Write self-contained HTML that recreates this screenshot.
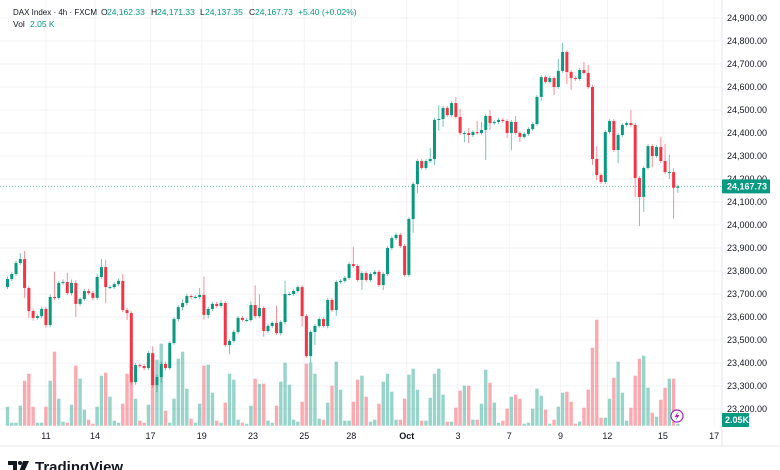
<!DOCTYPE html>
<html><head><meta charset="utf-8"><style>
html,body{margin:0;padding:0;background:#fff;}
#wrap{position:relative;width:780px;height:470px;overflow:hidden;font-family:"Liberation Sans",sans-serif;}
svg text{font-family:"Liberation Sans",sans-serif;}
</style></head><body>
<div id="wrap">
<svg id="chart" width="780" height="470" viewBox="0 0 780 470"></svg>
</div>
<script>
const closes=[23765,23787,23835,23852,23726,23626,23596,23604,23635,23565,23687,23683,23748,23752,23704,23748,23657,23678,23713,23704,23683,23774,23817,23730,23730,23743,23757,23630,23617,23317,23391,23387,23378,23443,23304,23339,23396,23378,23487,23591,23643,
23661,23691,23687,23687,23696,23609,23635,23657,23648,23661,23478,23496,23535,23596,23587,23587,23652,23604,23639,23539,23561,23574,23530,23578,23700,23700,23713,23730,23604,23430,23535,23561,23591,23561,23674,23630,23752,23757,23770,23830,
23822,23761,23791,23761,23787,23796,23739,23787,23900,23943,23957,23909,23783,24026,24178,24278,24248,24278,24287,24457,24461,24509,24478,24530,24470,24400,24400,24391,24404,24400,24413,24474,24443,24448,24457,24452,24400,
24448,24400,24383,24396,24417,24439,24557,24643,24622,24639,24600,24670,24752,24665,24639,24635,24674,24661,24600,24287,24217,24187,24404,24452,24326,24391,24435,24443,24435,24204,24122,24248,24343,24300,24339,24278,24230,24230,24162,24168];
const firstOpen=23730;
const wickUp=[10,8,10,26,35,8,10,8,10,8,12,110,8,12,40,15,12,8,10,10,10,15,35,30,8,8,10,30,10,8,10,8,8,10,30,10,10,10,8,8,8,
15,10,8,8,30,80,10,8,8,12,8,8,8,8,8,8,15,85,60,8,8,8,75,8,57,8,8,8,8,8,8,8,8,8,8,8,8,8,8,8,
75,8,8,8,8,8,8,8,8,8,10,8,8,8,8,8,8,8,48,8,60,8,8,8,26,35,8,22,8,48,35,8,26,8,8,8,8,
8,26,8,8,8,8,8,8,8,8,8,52,40,8,8,8,8,35,35,8,57,8,8,8,8,8,8,8,57,8,8,8,8,8,8,43,75,75,17,8];
const wickDn=[8,8,8,8,43,30,12,8,8,12,10,10,8,8,8,10,57,10,8,8,10,8,8,70,8,8,8,8,30,10,12,8,10,8,10,30,25,10,8,8,10,
15,10,10,8,8,20,15,8,8,8,8,40,8,8,8,8,8,10,8,25,8,8,8,10,10,8,8,8,45,8,30,57,8,8,10,8,25,8,8,8,
8,8,43,8,8,8,8,22,8,8,8,8,8,8,60,40,8,8,8,26,48,35,8,8,8,8,40,35,8,8,8,130,30,8,8,8,22,
75,8,22,8,8,8,8,17,8,8,35,8,8,52,52,8,8,8,8,26,22,8,8,8,8,57,8,8,8,82,126,65,8,48,8,8,8,30,135,22];
const volumes=[19,3,3,20,45,52,19,3,3,19,45,74,27,4,3,21,60,47,16,6,2,19,50,53,29,5,3,22,52,62,27,5,3,21,72,66,82,15,3,27,67,74,37,7,3,22,60,61,33,5,3,23,52,46,6,
3,2,20,47,42,42,5,3,20,44,63,41,6,4,24,62,63,52,7,6,23,40,64,36,5,5,24,46,50,29,4,6,22,44,52,34,6,6,27,51,57,36,5,5,28,52,57,31,4,4,18,35,40,40,6,6,
22,56,43,23,3,5,17,29,31,27,2,3,17,37,30,16,2,6,19,33,34,24,2,4,18,36,78,106,8,8,27,48,64,33,5,18,50,67,70,38,13,9,26,38,47,47,2];
const priceTicks=[24900,24800,24700,24600,24500,24400,24300,24200,24100,24000,23900,23800,23700,23600,23500,23400,23300,23200];
const dateLabels=["11","14","17","19","23","25","28","Oct","3","7","9","12","15","17"];
const dateIdx=[9,20.5,33.5,45.5,57.5,69.5,80.5,93.5,105.5,117.5,129.5,140.5,153.5,165.5];
const lastPrice=24167.73, lastVol="2.05K";

const NS="http://www.w3.org/2000/svg";
const svg=document.getElementById('chart');
function el(tag,attrs,parent){const e=document.createElementNS(NS,tag);for(const k in attrs)e.setAttribute(k,attrs[k]);(parent||svg).appendChild(e);return e;}
const yP=p=>18+(24900-p)*23/100;
const xI=i=>7.5+i*4.27;
const yV=v=>425.7-v;
const PR=722;

const grid=el('g',{});


priceTicks.forEach(p=>{el('line',{x1:0,x2:PR,y1:yP(p),y2:yP(p),stroke:'#f3f1f4','stroke-width':1},grid);});
dateIdx.forEach(d=>{const x=xI(d);el('line',{x1:x,x2:x,y1:0,y2:426,stroke:'#f3f1f4','stroke-width':1},grid);});
el('line',{x1:PR,x2:PR,y1:0,y2:446,stroke:'#e6e6ea','stroke-width':1},grid);
el('line',{x1:0,x2:780,y1:446,y2:446,stroke:'#e6e6ea','stroke-width':1},grid);

const vg=el('g',{});


const opens=closes.map((c,i)=>i===0?firstOpen:closes[i-1]);
volumes.forEach((v,i)=>{
  const up=closes[i]>=opens[i];
  const r=el('rect',{x:xI(i)-1.7,y:yV(v),width:3.4,height:v,fill:up?'rgba(8,153,129,0.42)':'rgba(242,54,69,0.42)'},vg);
  
  
});

el('line',{x1:0,x2:PR,y1:yP(lastPrice),y2:yP(lastPrice),stroke:'#089981','stroke-width':1,'stroke-dasharray':'1 2',opacity:0.6});

const cg=el('g',{});


closes.forEach((c,i)=>{
  const o=opens[i];const up=c>=o;const col=up?'#089981':'#f23645';
  const hi=Math.max(o,c)+wickUp[i], lo=Math.min(o,c)-wickDn[i];
  const g=el('g',{},cg);
  
  
  el('line',{x1:xI(i),x2:xI(i),y1:yP(hi),y2:yP(lo),stroke:col,'stroke-width':1,opacity:0.55},g);
  const t=yP(Math.max(o,c)),b=yP(Math.min(o,c));
  el('rect',{x:xI(i)-1.5,y:t,width:3,height:Math.max(1,b-t),fill:col},g);
});

const ax=el('g',{});


priceTicks.forEach(p=>{
  const t=el('text',{x:727,y:yP(p)+3,'font-size':9,fill:'#131722'},ax);
  t.textContent=p.toLocaleString('en-US')+'.00';
  
  
});
const pl=el('g',{});


el('rect',{x:722,y:yP(lastPrice)-7,width:48,height:14,fill:'#089981',rx:1},pl);
el('text',{x:727,y:yP(lastPrice)+3,'font-size':9,fill:'#fff','font-weight':'bold'},pl).textContent=lastPrice.toLocaleString('en-US');
const vl=el('g',{});


el('rect',{x:722,y:413,width:27,height:14,fill:'#089981',rx:1},vl);
el('text',{x:725,y:423,'font-size':9,fill:'#fff','font-weight':'bold'},vl).textContent=lastVol;

const tx=el('g',{});


dateLabels.forEach((d,i)=>{
  const t=el('text',{x:xI(dateIdx[i]),y:439,'font-size':9,fill:'#131722','text-anchor':'middle','font-weight':d==='Oct'?'bold':'normal'},tx);
  t.textContent=d;
  
  
});

const li=el('g',{});


el('circle',{cx:677,cy:416,r:6,fill:'#fff',stroke:'#9c27b0','stroke-width':1.2},li);
el('path',{d:'M678.5 411.5 L674.5 417 L677 417 L675.5 420.5 L679.5 415 L677 415 Z',fill:'#9c27b0'},li);

const hd=el('g',{});


function ht(x,y,s,c){const t=el('text',{x:x,y:y,'font-size':8.5,fill:c},hd);t.textContent=s;return t;}
const title=ht(13,15,'DAX Index · 4h · FXCM','#131722');
title.setAttribute('textLength','84');
title.setAttribute('lengthAdjust','spacingAndGlyphs');
ht(101,15,'O','#131722');ht(107,15,'24,162.33','#089981');
ht(151,15,'H','#131722');ht(157,15,'24,171.33','#089981');
ht(200,15,'L','#131722');ht(205,15,'24,137.35','#089981');
ht(249,15,'C','#131722');ht(255,15,'24,167.73','#089981');
ht(298,15,'+5.40 (+0.02%)','#089981');
ht(13,27,'Vol','#131722');ht(30,27,'2.05 K','#089981');

const lg=el('g',{});


el('path',{d:'M8 461 H17 V472 H13 V465 H8 Z',fill:'#131722'},lg);
el('circle',{cx:20,cy:463,r:2,fill:'#131722'},lg);
el('path',{d:'M23 461 H29 L24 472 H19 Z',fill:'#131722'},lg);
el('text',{x:35,y:472,'font-size':15,fill:'#131722','font-weight':'bold'},lg).textContent='TradingView';
</script>
</body></html>
